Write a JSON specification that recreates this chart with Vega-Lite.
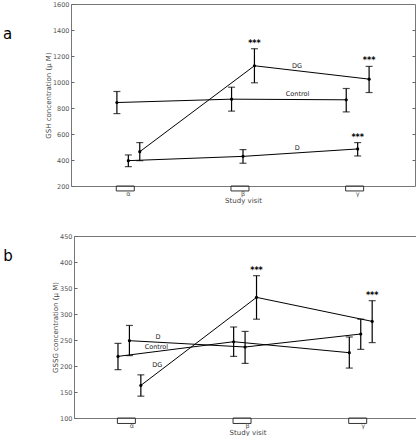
{
  "$schema": "https://vega.github.io/schema/vega-lite/v6.json",
  "padding": {"left": 1, "top": 0, "right": 0, "bottom": 0},
  "spacing": 28,
  "config": {
    "font": "DejaVu Sans",
    "view": {"stroke": "#777", "strokeWidth": 1},
    "axis": {"grid": false, "labelFontSize": 6.5, "labelColor": "#555", "titleFontSize": 7, "titleColor": "#444", "titleFontWeight": "normal", "tickColor": "#666", "domain": false}
  },
  "datasets": {
    "gsh": [
      {"visit": "α", "group": "Control", "mean": 842, "lo": 757, "hi": 927, "star": ""},
      {"visit": "β", "group": "Control", "mean": 868, "lo": 776, "hi": 960, "star": ""},
      {"visit": "γ", "group": "Control", "mean": 863, "lo": 770, "hi": 950, "star": ""},
      {"visit": "α", "group": "D", "mean": 395, "lo": 349, "hi": 439, "star": ""},
      {"visit": "β", "group": "D", "mean": 428, "lo": 375, "hi": 480, "star": ""},
      {"visit": "γ", "group": "D", "mean": 485, "lo": 431, "hi": 534, "star": "***"},
      {"visit": "α", "group": "DG", "mean": 464, "lo": 395, "hi": 534, "star": ""},
      {"visit": "β", "group": "DG", "mean": 1125, "lo": 994, "hi": 1256, "star": "***"},
      {"visit": "γ", "group": "DG", "mean": 1022, "lo": 919, "hi": 1120, "star": "***"}
    ],
    "gssg": [
      {"visit": "α", "group": "Control", "mean": 218.5, "lo": 193, "hi": 243.5, "star": ""},
      {"visit": "β", "group": "Control", "mean": 246.7, "lo": 218.5, "hi": 275, "star": ""},
      {"visit": "γ", "group": "Control", "mean": 225.6, "lo": 196, "hi": 255.8, "star": ""},
      {"visit": "α", "group": "D", "mean": 248.7, "lo": 220, "hi": 278, "star": ""},
      {"visit": "β", "group": "D", "mean": 236.5, "lo": 205, "hi": 266.5, "star": ""},
      {"visit": "γ", "group": "D", "mean": 261.5, "lo": 232, "hi": 290, "star": ""},
      {"visit": "α", "group": "DG", "mean": 162.7, "lo": 142, "hi": 183, "star": ""},
      {"visit": "β", "group": "DG", "mean": 332, "lo": 290, "hi": 373.7, "star": "***"},
      {"visit": "γ", "group": "DG", "mean": 285.8, "lo": 245, "hi": 325.6, "star": "***"}
    ],
    "visits": [{"visit": "α"}, {"visit": "β"}, {"visit": "γ"}]
  },
  "vconcat": [
    {"spacing": 0, "hconcat": [
    {"width": 1, "height": 1, "view": {"stroke": null}, "data": {"values": [{}]}, "mark": {"type": "point", "opacity": 0, "size": 0, "strokeWidth": 0}, "encoding": {}},
    {
      "width": 344,
      "height": 182,
      "title": {"text": "a", "orient": "left", "anchor": "end", "angle": 0, "align": "right", "baseline": "middle", "dy": 33, "offset": 23, "fontSize": 15, "fontWeight": "normal", "font": "DejaVu Sans", "color": "black"},
      "data": {"name": "gsh"},
      "encoding": {
        "x": {"field": "visit", "type": "nominal", "sort": ["α", "β", "γ"],
              "scale": {"paddingInner": 0.79, "paddingOuter": 0.395},
              "axis": {"title": "Study visit", "ticks": false, "labelPadding": 4, "labelAngle": 0, "titlePadding": 0}}
      },
      "layer": [
        {
          "data": {"name": "visits"},
          "mark": {"type": "rect", "fillOpacity": 0, "stroke": "#333", "strokeWidth": 1},
          "encoding": {
            "y": {"datum": 200, "type": "quantitative", "scale": {"domain": [200, 1600], "nice": false, "zero": false}, "axis": null},
            "y2": {"datum": 162}
          }
        },
        {
          "mark": {"type": "rule", "color": "black", "strokeWidth": 1.2},
          "encoding": {
            "xOffset": {"field": "group", "type": "nominal", "scale": {"type": "point", "padding": 0.053}},
            "y": {"field": "lo", "type": "quantitative", "scale": {"domain": [200, 1600], "nice": false, "zero": false}, "axis": null},
            "y2": {"field": "hi"}
          }
        },
        {
          "mark": {"type": "tick", "orient": "horizontal", "color": "black", "size": 7, "thickness": 1.2},
          "encoding": {
            "xOffset": {"field": "group", "type": "nominal", "scale": {"type": "point", "padding": 0.053}},
            "y": {"field": "lo", "type": "quantitative", "scale": {"domain": [200, 1600], "nice": false, "zero": false}, "axis": null}
          }
        },
        {
          "mark": {"type": "tick", "orient": "horizontal", "color": "black", "size": 7, "thickness": 1.2},
          "encoding": {
            "xOffset": {"field": "group", "type": "nominal", "scale": {"type": "point", "padding": 0.053}},
            "y": {"field": "hi", "type": "quantitative", "scale": {"domain": [200, 1600], "nice": false, "zero": false}, "axis": null}
          }
        },
        {
          "mark": {"type": "line", "color": "black", "strokeWidth": 1},
          "encoding": {
            "xOffset": {"field": "group", "type": "nominal", "scale": {"type": "point", "padding": 0.053}},
            "detail": {"field": "group"},
            "y": {"field": "mean", "type": "quantitative", "scale": {"domain": [200, 1600], "nice": false, "zero": false},
                  "axis": {"orient": "right", "labels": false, "title": null, "tickSize": -3, "values": [400, 600, 800, 1000, 1200, 1400]}}
          }
        },
        {
          "mark": {"type": "point", "filled": true, "color": "black", "size": 10, "opacity": 1},
          "encoding": {
            "xOffset": {"field": "group", "type": "nominal", "scale": {"type": "point", "padding": 0.053}},
            "y": {"field": "mean", "type": "quantitative", "scale": {"domain": [200, 1600], "nice": false, "zero": false},
                  "axis": {"orient": "left", "title": "GSH concentration (μ M)", "format": "d", "tickSize": -3, "labelPadding": 5, "titlePadding": 1, "values": [200, 400, 600, 800, 1000, 1200, 1400, 1600]}}
          }
        },
        {
          "mark": {"type": "text", "fontWeight": "bold", "fontSize": 8, "color": "black", "baseline": "middle", "dy": -5},
          "encoding": {
            "xOffset": {"field": "group", "type": "nominal", "scale": {"type": "point", "padding": 0.053}},
            "y": {"field": "hi", "type": "quantitative", "scale": {"domain": [200, 1600], "nice": false, "zero": false}, "axis": null},
            "text": {"field": "star"}
          }
        },
        {
          "transform": [{"filter": "datum.group == 'DG' && datum.visit == 'γ'"}],
          "mark": {"type": "text", "fontSize": 6.5, "color": "#222", "baseline": "middle", "dx": -72, "dy": -13.3},
          "encoding": {
            "xOffset": {"field": "group", "type": "nominal", "scale": {"type": "point", "padding": 0.053}},
            "y": {"field": "mean", "type": "quantitative", "scale": {"domain": [200, 1600], "nice": false, "zero": false}, "axis": null},
            "text": {"field": "group"}
          }
        },
        {
          "transform": [{"filter": "datum.group == 'Control' && datum.visit == 'γ'"}],
          "mark": {"type": "text", "fontSize": 6.5, "color": "#222", "baseline": "middle", "dx": -48.7, "dy": -5.7},
          "encoding": {
            "xOffset": {"field": "group", "type": "nominal", "scale": {"type": "point", "padding": 0.053}},
            "y": {"field": "mean", "type": "quantitative", "scale": {"domain": [200, 1600], "nice": false, "zero": false}, "axis": null},
            "text": {"field": "group"}
          }
        },
        {
          "transform": [{"filter": "datum.group == 'D' && datum.visit == 'γ'"}],
          "mark": {"type": "text", "fontSize": 6.5, "color": "#222", "baseline": "middle", "dx": -60.3, "dy": -1},
          "encoding": {
            "xOffset": {"field": "group", "type": "nominal", "scale": {"type": "point", "padding": 0.053}},
            "y": {"field": "mean", "type": "quantitative", "scale": {"domain": [200, 1600], "nice": false, "zero": false}, "axis": null},
            "text": {"field": "group"}
          }
        }
      ],
      "resolve": {"axis": {"y": "independent"}}
    }]},
    {"spacing": 0, "hconcat": [
    {"width": 1, "height": 1, "view": {"stroke": null}, "data": {"values": [{}]}, "mark": {"type": "point", "opacity": 0, "size": 0, "strokeWidth": 0}, "encoding": {}},
    {
      "width": 347,
      "height": 182,
      "title": {"text": "b", "orient": "left", "anchor": "end", "angle": 0, "align": "right", "baseline": "middle", "dy": 23, "offset": 29.3, "fontSize": 15, "fontWeight": "normal", "font": "DejaVu Sans", "color": "black"},
      "data": {"name": "gssg"},
      "encoding": {
        "x": {"field": "visit", "type": "nominal", "sort": ["α", "β", "γ"],
              "scale": {"paddingInner": 0.75, "paddingOuter": 0.375},
              "axis": {"title": "Study visit", "ticks": false, "labelPadding": 4, "labelAngle": 0, "titlePadding": 0}}
      },
      "layer": [
        {
          "data": {"name": "visits"},
          "mark": {"type": "rect", "fillOpacity": 0, "stroke": "#333", "strokeWidth": 1},
          "encoding": {
            "y": {"datum": 100, "type": "quantitative", "scale": {"domain": [100, 450], "nice": false, "zero": false}, "axis": null},
            "y2": {"datum": 89.5}
          }
        },
        {
          "mark": {"type": "rule", "color": "black", "strokeWidth": 1.2},
          "encoding": {
            "xOffset": {"field": "group", "type": "nominal", "scale": {"type": "point", "padding": 0.24}},
            "y": {"field": "lo", "type": "quantitative", "scale": {"domain": [100, 450], "nice": false, "zero": false}, "axis": null},
            "y2": {"field": "hi"}
          }
        },
        {
          "mark": {"type": "tick", "orient": "horizontal", "color": "black", "size": 7, "thickness": 1.2},
          "encoding": {
            "xOffset": {"field": "group", "type": "nominal", "scale": {"type": "point", "padding": 0.24}},
            "y": {"field": "lo", "type": "quantitative", "scale": {"domain": [100, 450], "nice": false, "zero": false}, "axis": null}
          }
        },
        {
          "mark": {"type": "tick", "orient": "horizontal", "color": "black", "size": 7, "thickness": 1.2},
          "encoding": {
            "xOffset": {"field": "group", "type": "nominal", "scale": {"type": "point", "padding": 0.24}},
            "y": {"field": "hi", "type": "quantitative", "scale": {"domain": [100, 450], "nice": false, "zero": false}, "axis": null}
          }
        },
        {
          "mark": {"type": "line", "color": "black", "strokeWidth": 1},
          "encoding": {
            "xOffset": {"field": "group", "type": "nominal", "scale": {"type": "point", "padding": 0.24}},
            "detail": {"field": "group"},
            "y": {"field": "mean", "type": "quantitative", "scale": {"domain": [100, 450], "nice": false, "zero": false},
                  "axis": {"orient": "right", "labels": false, "title": null, "tickSize": -3, "values": [150, 200, 250, 300, 350, 400]}}
          }
        },
        {
          "mark": {"type": "point", "filled": true, "color": "black", "size": 10, "opacity": 1},
          "encoding": {
            "xOffset": {"field": "group", "type": "nominal", "scale": {"type": "point", "padding": 0.24}},
            "y": {"field": "mean", "type": "quantitative", "scale": {"domain": [100, 450], "nice": false, "zero": false},
                  "axis": {"orient": "left", "title": "GSSG concentration (μ M)", "format": "d", "tickSize": -3, "labelPadding": 5, "titlePadding": 1, "values": [100, 150, 200, 250, 300, 350, 400, 450]}}
          }
        },
        {
          "mark": {"type": "text", "fontWeight": "bold", "fontSize": 8, "color": "black", "baseline": "middle", "dy": -4.5},
          "encoding": {
            "xOffset": {"field": "group", "type": "nominal", "scale": {"type": "point", "padding": 0.24}},
            "y": {"field": "hi", "type": "quantitative", "scale": {"domain": [100, 450], "nice": false, "zero": false}, "axis": null},
            "text": {"field": "star"}
          }
        },
        {
          "transform": [{"filter": "datum.group == 'D' && datum.visit == 'α'"}],
          "mark": {"type": "text", "fontSize": 6.5, "color": "#222", "baseline": "middle", "dx": 28.7, "dy": -3.7},
          "encoding": {
            "xOffset": {"field": "group", "type": "nominal", "scale": {"type": "point", "padding": 0.24}},
            "y": {"field": "mean", "type": "quantitative", "scale": {"domain": [100, 450], "nice": false, "zero": false}, "axis": null},
            "text": {"field": "group"}
          }
        },
        {
          "transform": [{"filter": "datum.group == 'Control' && datum.visit == 'α'"}],
          "mark": {"type": "text", "fontSize": 6.5, "color": "#222", "baseline": "middle", "dx": 38.4, "dy": -9.7},
          "encoding": {
            "xOffset": {"field": "group", "type": "nominal", "scale": {"type": "point", "padding": 0.24}},
            "y": {"field": "mean", "type": "quantitative", "scale": {"domain": [100, 450], "nice": false, "zero": false}, "axis": null},
            "text": {"field": "group"}
          }
        },
        {
          "transform": [{"filter": "datum.group == 'DG' && datum.visit == 'α'"}],
          "mark": {"type": "text", "fontSize": 6.5, "color": "#222", "baseline": "middle", "dx": 16.4, "dy": -20},
          "encoding": {
            "xOffset": {"field": "group", "type": "nominal", "scale": {"type": "point", "padding": 0.24}},
            "y": {"field": "mean", "type": "quantitative", "scale": {"domain": [100, 450], "nice": false, "zero": false}, "axis": null},
            "text": {"field": "group"}
          }
        }
      ],
      "resolve": {"axis": {"y": "independent"}}
    }]}
  ]
}
